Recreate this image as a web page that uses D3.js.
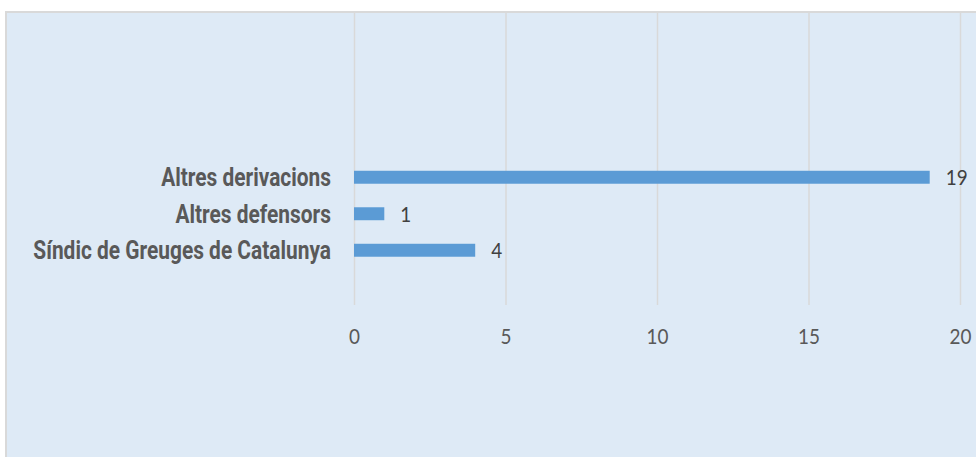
<!DOCTYPE html>
<html lang="ca">
<head>
    <meta charset="UTF-8">
    <title>Derivacions</title>
    <script src="https://d3js.org/d3.v7.min.js"></script>
    <style>
        body { margin: 0; background: #fff; }
        .cat { font-family: Roboto, "DejaVu Sans Condensed", sans-serif; font-weight: bold; font-size: 25px; fill: #595959; }
        .tick text { font-family: Lato, "Open Sans", sans-serif; font-size: 22px; fill: #595959; }
        .val { font-family: Lato, "Open Sans", sans-serif; font-size: 22px; fill: #404040; }
    </style>
</head>
<body>
<div id="chart"></div>
<script>
    // 8 category slots on the axis, only three of them carry data (top to bottom)
    const slots = ["s1", "s2", "s3", "s4", "s5", "s6", "s7", "s8"];
    const categories = ["Altres derivacions", "Altres defensors", "Síndic de Greuges de Catalunya"];
    const categorySlots = ["s5", "s6", "s7"];
    const values = [19, 1, 4];
    const xTicks = [0, 5, 10, 15, 20];

    const width = 976, height = 457;
    const numSquash = 0.86;   // narrow look for the numbers

    const svg = d3.select("#chart").append("svg")
        .attr("width", width)
        .attr("height", height);

    // chart panel
    svg.append("rect")
        .attr("x", 6).attr("y", 12)
        .attr("width", width + 10).attr("height", height + 10)
        .attr("fill", "#deeaf6")
        .attr("stroke", "#d9d9d9")
        .attr("stroke-width", 2);

    const x = d3.scaleLinear().domain([0, 20]).range([354, 960]);
    const y = d3.scaleBand().domain(slots).range([13, 305]).paddingInner(0.645).paddingOuter(0.3225);
    const yc = d3.scaleBand().domain(slots).range([13, 305]);

    // gridlines + tick labels
    const xAxis = svg.append("g")
        .attr("transform", "translate(0,305)")
        .call(d3.axisBottom(x).tickValues(xTicks).tickSize(292).tickPadding(0));
    xAxis.select(".domain").remove();
    xAxis.selectAll(".tick line")
        .attr("y1", 0).attr("y2", -292)
        .attr("stroke", "#d9d9d9").attr("stroke-width", 1.5);
    xAxis.selectAll(".tick text")
        .attr("y", 0).attr("dy", 0)
        .attr("transform", `translate(0,39) scale(${numSquash},1)`);

    // bars
    svg.selectAll(".bar")
        .data(values)
        .enter().append("rect")
        .attr("class", "bar")
        .attr("x", x(0))
        .attr("y", (d, i) => y(categorySlots[i]))
        .attr("width", d => x(d) - x(0))
        .attr("height", y.bandwidth())
        .attr("fill", "#5b9bd5");

    // category labels, squeezed to a condensed width
    const cats = svg.selectAll(".cat")
        .data(categories)
        .enter().append("text")
        .attr("class", "cat")
        .attr("x", 0)
        .attr("y", 0)
        .attr("dy", "0.36em")
        .attr("text-anchor", "end")
        .text(d => d);
    const catSquash = 170 / cats.node().getComputedTextLength();
    cats.attr("transform", (d, i) =>
        `translate(${x(0) - 23},${yc(categorySlots[i]) + yc.bandwidth() / 2}) scale(${catSquash},1)`);

    // value labels
    svg.selectAll(".val")
        .data(values)
        .enter().append("text")
        .attr("class", "val")
        .attr("dy", "0.36em")
        .attr("transform", (d, i) =>
            `translate(${x(d) + 16},${yc(categorySlots[i]) + yc.bandwidth() / 2}) scale(${numSquash},1)`)
        .text(d => d);
</script>
</body>
</html>
